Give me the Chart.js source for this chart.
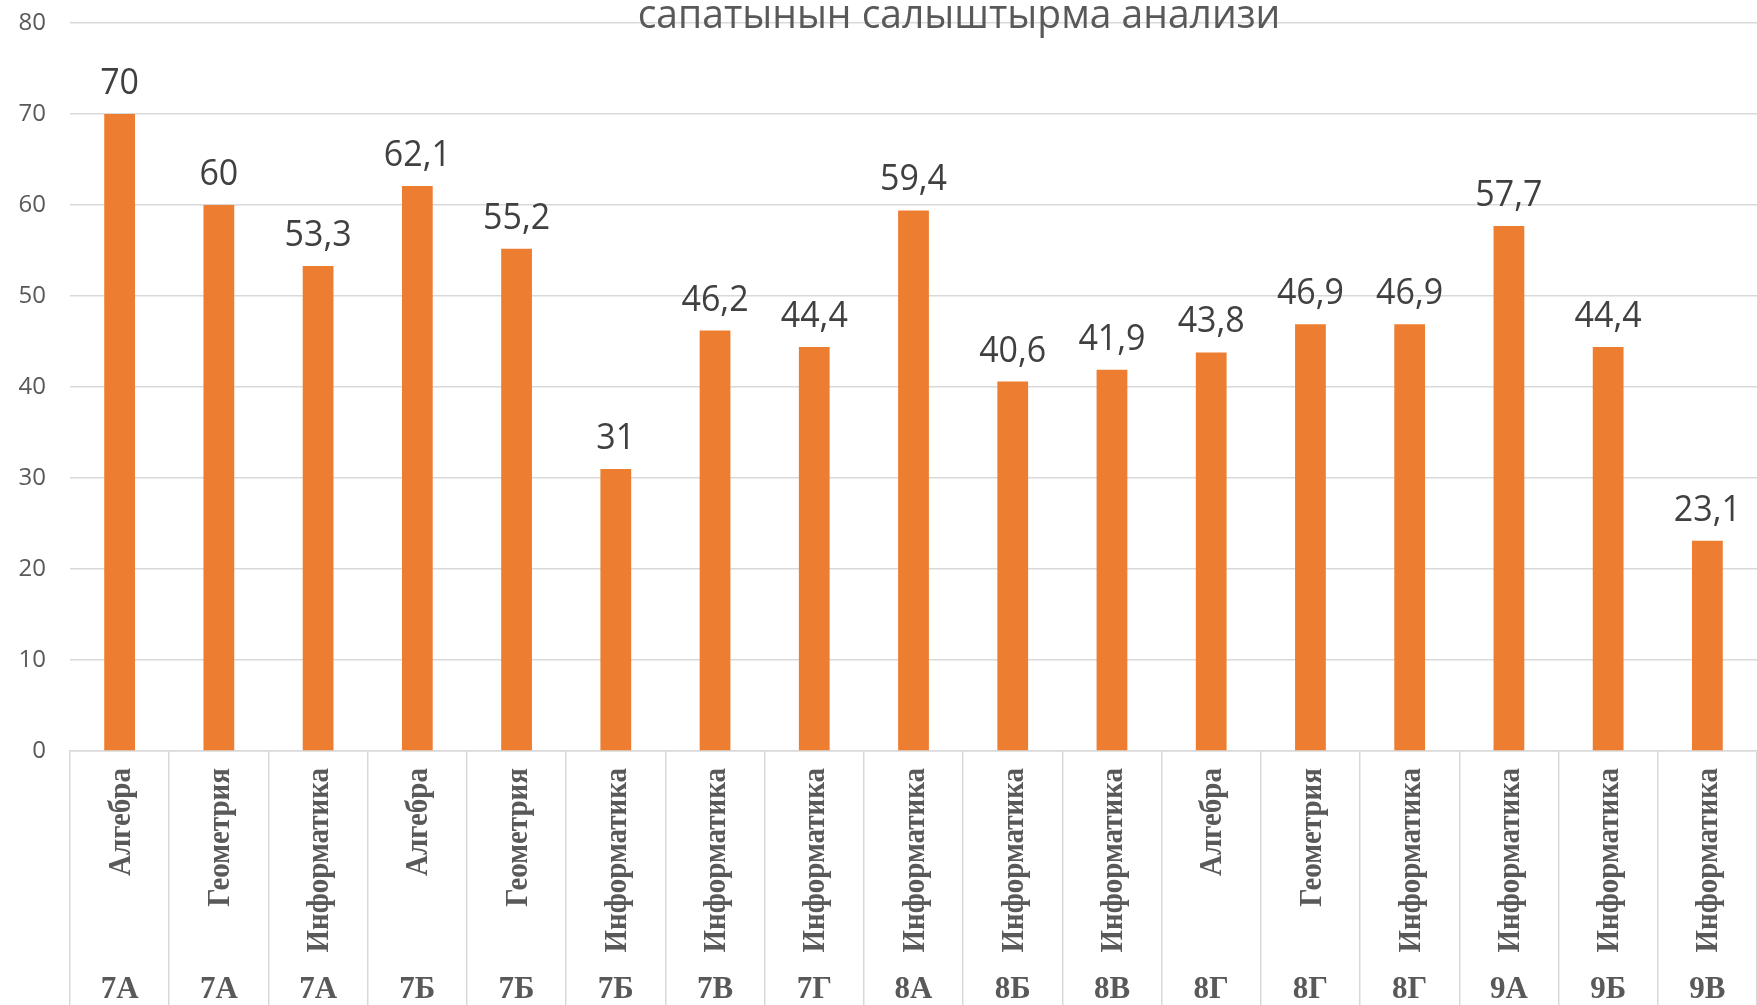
<!DOCTYPE html>
<html>
<head>
<meta charset="utf-8">
<script src="https://cdn.jsdelivr.net/npm/chart.js"></script>
<style>
  html, body { margin: 0; padding: 0; background: #fff; }
  #wrap { width: 1757px; height: 1005px; position: relative; overflow: hidden; }
</style>
</head>
<body>
<div id="wrap"><canvas id="chart"></canvas></div>
<script>
// данные с диаграммы
const TITLE = 'сапатынын салыштырма анализи';
const subjects = ['Алгебра', 'Геометрия', 'Информатика', 'Алгебра', 'Геометрия', 'Информатика',
  'Информатика', 'Информатика', 'Информатика', 'Информатика', 'Информатика', 'Алгебра',
  'Геометрия', 'Информатика', 'Информатика', 'Информатика', 'Информатика'];
const classes = ['7А', '7А', '7А', '7Б', '7Б', '7Б', '7В', '7Г', '8А', '8Б', '8В', '8Г',
  '8Г', '8Г', '9А', '9Б', '9В'];
const values = [70, 60, 53.3, 62.1, 55.2, 31, 46.2, 44.4, 59.4, 40.6, 41.9, 43.8, 46.9, 46.9, 57.7, 44.4, 23.1];
const yTicks = [0, 10, 20, 30, 40, 50, 60, 70, 80];

const GRID = '#d9d9d9';
const BAR = '#ED7D31';

const fmt = (v) => String(v).replace('.', ',');

// подписи значений над столбцами
const valueLabels = {
  id: 'valueLabels',
  afterDatasetsDraw(chart) {
    const { ctx } = chart;
    const meta = chart.getDatasetMeta(0);
    ctx.save();
    ctx.fillStyle = '#404040';
    ctx.font = '34px "Open Sans"';
    ctx.textAlign = 'center';
    ctx.textBaseline = 'alphabetic';
    meta.data.forEach((bar, i) => {
      ctx.save();
      ctx.translate(bar.x, bar.y - 20);
      ctx.scale(1, 1.08);
      ctx.fillText(fmt(values[i]), 0, 0);
      ctx.restore();
    });
    ctx.restore();
  }
};

// двухуровневые подписи оси X + заголовок
const xLabels = {
  id: 'xLabels',
  afterDraw(chart) {
    const { ctx, chartArea } = chart;
    const x = chart.scales.x;
    ctx.save();
    ctx.fillStyle = '#595959';
    subjects.forEach((s, i) => {
      const cx = x.getPixelForValue(i);
      // предмет, повернут
      ctx.save();
      ctx.translate(cx + 2, chartArea.bottom + 17);
      ctx.rotate(-Math.PI / 2);
      ctx.scale(1, 1.08);
      ctx.font = 'bold 29px "Liberation Serif"';
      ctx.textAlign = 'right';
      ctx.textBaseline = 'middle';
      ctx.fillText(s, 0, 0);
      ctx.restore();
      // класс
      ctx.font = 'bold 31px "Liberation Serif"';
      ctx.textAlign = 'center';
      ctx.textBaseline = 'alphabetic';
      ctx.fillText(classes[i], cx, chartArea.bottom + 247);
    });

    // заголовок (обрезан сверху)
    ctx.save();
    ctx.translate(959, 28);
    ctx.scale(1, 1.05);
    ctx.font = '39px "Open Sans"';
    ctx.textAlign = 'center';
    ctx.textBaseline = 'alphabetic';
    ctx.fillStyle = '#595959';
    ctx.fillText(TITLE, 0, 0);
    ctx.restore();
    ctx.restore();
  }
};

new Chart(document.getElementById('chart'), {
  type: 'bar',
  data: {
    labels: classes.map((c, i) => subjects[i] + ' ' + c),
    datasets: [{
      data: values,
      backgroundColor: BAR,
      borderWidth: 0,
      barPercentage: 0.31,
      categoryPercentage: 1
    }]
  },
  options: {
    responsive: true,
    maintainAspectRatio: false,
    animation: false,
    layout: { padding: { top: 23, left: 0, right: -3, bottom: 0 } },
    plugins: {
      legend: { display: false },
      tooltip: { enabled: false },
      title: { display: false }
    },
    scales: {
      x: {
        ticks: { display: false },
        grid: {
          offset: true,
          drawOnChartArea: false,
          drawTicks: true,
          tickLength: 254,
          color: GRID,
          lineWidth: 1.5
        },
        border: { color: GRID, width: 1.5 }
      },
      y: {
        min: 0,
        max: 80,
        afterBuildTicks: (scale) => { scale.ticks = yTicks.map(v => ({ value: v })); },
        afterFit: (scale) => {
          scale.width = 70;
          scale.paddingTop = 0;
          scale.paddingBottom = 0;
        },
        ticks: {
          padding: 24,
          color: '#595959',
          font: { family: '"Open Sans"', size: 24 }
        },
        grid: { color: GRID, lineWidth: 1.5, drawTicks: false },
        border: { display: false }
      }
    }
  },
  plugins: [valueLabels, xLabels]
});
</script>
</body>
</html>
